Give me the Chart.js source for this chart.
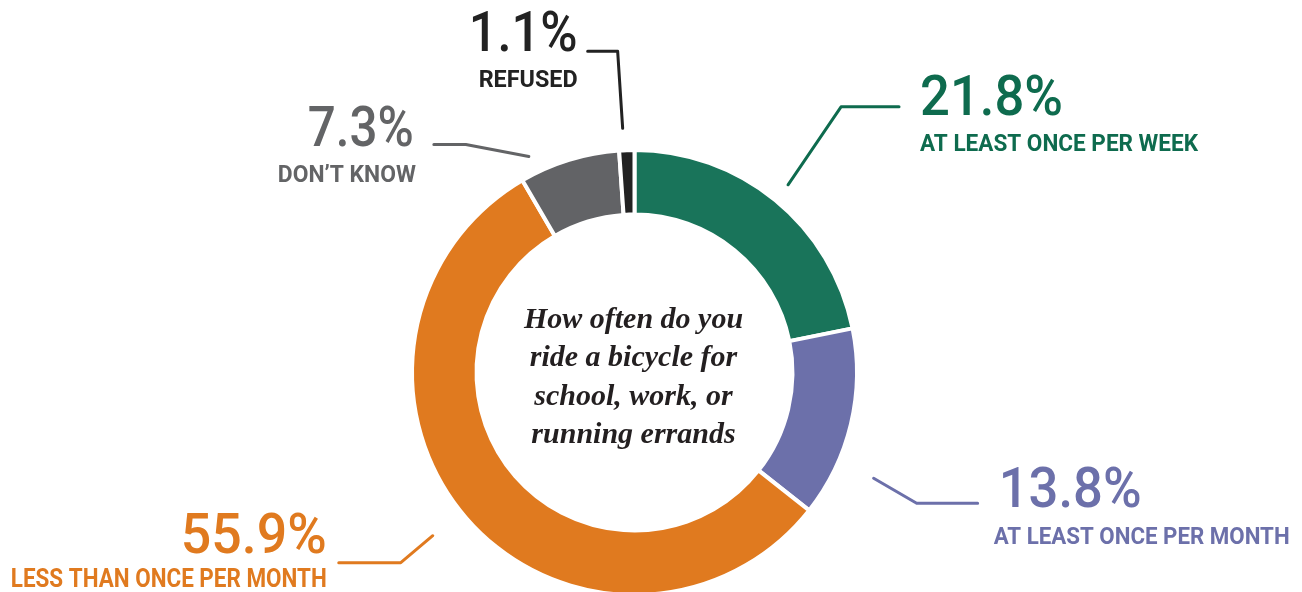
<!DOCTYPE html>
<html>
<head>
<meta charset="utf-8">
<script src="https://cdn.jsdelivr.net/npm/chart.js@4.4.1/dist/chart.umd.min.js"></script>
<style>
  html, body { margin: 0; padding: 0; background: #ffffff; overflow: hidden; }
  #wrap { position: absolute; left: 0; top: 0; width: 1302px; height: 620px; }
</style>
</head>
<body>
<div id="wrap"><canvas id="c" width="1302" height="620"></canvas></div>
<script>
// ---- Data ----
const categories = ["AT LEAST ONCE PER WEEK", "AT LEAST ONCE PER MONTH", "LESS THAN ONCE PER MONTH", "DON\u2019T KNOW", "REFUSED"];
const values = [21.8, 13.8, 55.9, 7.3, 1.1];
const centerLines = ["How often do you", "ride a bicycle for", "school, work, or", "running errands"];

// ---- Styles ----
const sliceColors = ["#19745A", "#6C70AA", "#E07A1F", "#626366", "#222222"];
const textColors  = ["#0E6B4E", "#6C70AA", "#E07A1F", "#636466", "#222222"];

// leader / label placement relative to each arc
const labelStyle = [
  { frac: 0.50, gap: 20, elbow: [53, -78], hlen: 58,  align: "left",  num: { dx: 21, dy: 8,  w: 143 }, sub: { dx: 21, dy: 44, w: 278, size: 23 } },
  { frac: 0.71, gap: 39, elbow: [43, 25],  hlen: 61,  align: "left",  num: { dx: 21, dy: 4,  w: 143 }, sub: { dx: 16, dy: 41, w: 296, size: 23 } },
  { frac: 0.51, gap: 37, elbow: [-32, 27], hlen: -62, align: "right", num: { dx: -12, dy: -10, w: 146 }, sub: { dx: -12, dy: 24, w: 316, size: 25 } },
  { frac: 0.16, gap: 18, elbow: [-63, -12],hlen: -32, align: "right", num: { dx: -20, dy: 2,  w: 106 }, sub: { dx: -18, dy: 38, w: 138, size: 23 } },
  { frac: 0.30, gap: 22, elbow: [-5, -77], hlen: -30, align: "right", num: { dx: -10, dy: 0,  w: 109 }, sub: { dx: -10, dy: 36, w: 99,  size: 23 } }
];

function fitText(ctx, text, x, y, font, color, align, targetW) {
  ctx.save();
  ctx.font = font;
  ctx.fillStyle = color;
  ctx.textBaseline = "alphabetic";
  const w = ctx.measureText(text).width;
  const s = targetW ? targetW / w : 1;
  ctx.translate(x, y);
  ctx.scale(s, 1);
  ctx.textAlign = align;
  ctx.fillText(text, 0, 0);
  ctx.restore();
}

const labelPlugin = {
  id: "labels",
  afterDraw(chart) {
    const ctx = chart.ctx;
    const meta = chart.getDatasetMeta(0);
    meta.data.forEach((arc, i) => {
      const st = labelStyle[i];
      const p = arc.getProps(["x", "y", "startAngle", "endAngle", "outerRadius"], true);
      const a = p.startAngle + st.frac * (p.endAngle - p.startAngle);
      const r = p.outerRadius + st.gap;
      const x0 = p.x + r * Math.cos(a), y0 = p.y + r * Math.sin(a);
      const x1 = x0 + st.elbow[0], y1 = y0 + st.elbow[1];
      const x2 = x1 + st.hlen, y2 = y1;
      ctx.save();
      ctx.strokeStyle = textColors[i];
      ctx.lineWidth = 3;
      ctx.lineCap = "round";
      ctx.lineJoin = "round";
      ctx.beginPath();
      ctx.moveTo(x0, y0); ctx.lineTo(x1, y1); ctx.lineTo(x2, y2);
      ctx.stroke();
      ctx.restore();
      const numText = values[i].toFixed(1) + "%";
      fitText(ctx, numText, x2 + st.num.dx, y2 + st.num.dy, "500 55px Roboto, 'Liberation Sans', sans-serif", textColors[i], st.align, st.num.w);
      fitText(ctx, categories[i], x2 + st.sub.dx, y2 + st.sub.dy, "bold " + st.sub.size + "px Roboto, 'Liberation Sans', sans-serif", textColors[i], st.align, st.sub.w);
    });
    // center text
    const a0 = meta.data[0];
    ctx.save();
    ctx.font = "italic bold 30px 'Liberation Serif', 'DejaVu Serif', serif";
    ctx.fillStyle = "#231F20";
    ctx.textAlign = "center";
    ctx.textBaseline = "alphabetic";
    centerLines.forEach((t, k) => {
      ctx.fillText(t, a0.x - 1, a0.y - 45 + k * 38.5);
    });
    ctx.restore();
  }
};

new Chart(document.getElementById("c"), {
  type: "doughnut",
  data: {
    labels: categories,
    datasets: [{
      data: values,
      backgroundColor: sliceColors,
      borderColor: "#ffffff",
      borderWidth: 4,
      hoverOffset: 0
    }]
  },
  options: {
    responsive: false,
    animation: false,
    devicePixelRatio: 1,
    cutout: "71%",
    layout: { padding: { left: 410, right: 443, top: 148, bottom: 23 } },
    plugins: { legend: { display: false }, tooltip: { enabled: false } },
    events: []
  },
  plugins: [labelPlugin]
});
</script>
</body>
</html>
